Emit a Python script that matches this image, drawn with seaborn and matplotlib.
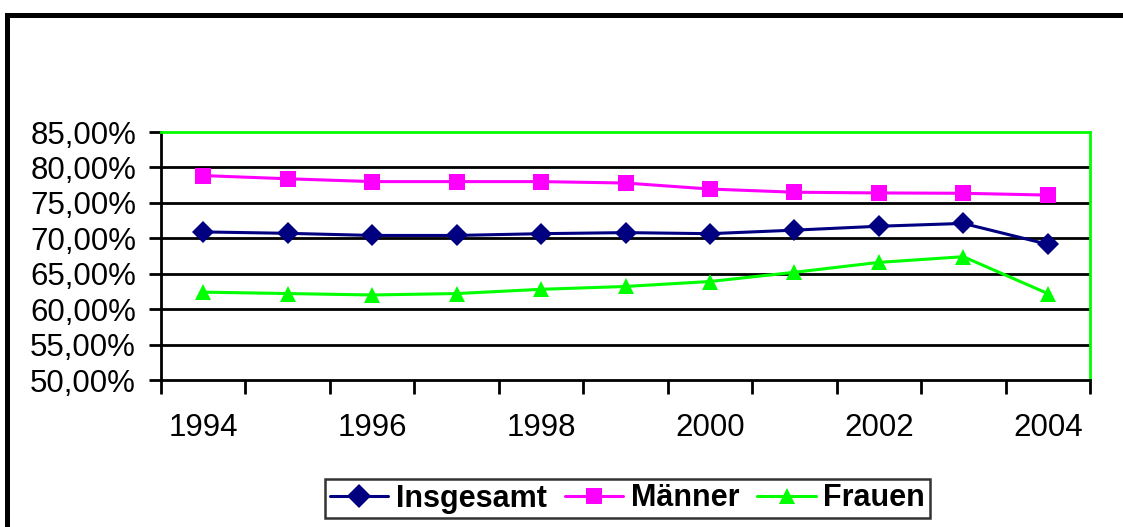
import numpy as np
import pandas as pd
import matplotlib
matplotlib.use("Agg")
import matplotlib.pyplot as plt
import seaborn as sns
from matplotlib.ticker import FuncFormatter, FixedLocator
from matplotlib.patches import Rectangle
from matplotlib.lines import Line2D

years = [1994, 1995, 1996, 1997, 1998, 1999, 2000, 2001, 2002, 2003, 2004]
insgesamt = [70.9, 70.7, 70.4, 70.4, 70.65, 70.8, 70.65, 71.15, 71.7, 72.1, 69.15]
maenner = [78.85, 78.4, 78.0, 78.0, 78.0, 77.8, 76.95, 76.5, 76.4, 76.35, 76.1]
frauen = [62.4, 62.2, 62.0, 62.2, 62.8, 63.2, 63.9, 65.2, 66.6, 67.4, 62.2]
series_names = ["Insgesamt", "Männer", "Frauen"]
colors = {"Insgesamt": "#000080", "Männer": "#FF00FF", "Frauen": "#00FF00"}
markers = {"Insgesamt": "D", "Männer": "s", "Frauen": "^"}
yticks = [50, 55, 60, 65, 70, 75, 80, 85]

sns.set_theme(style="white")
plt.rcParams["font.family"] = ["Liberation Sans", "DejaVu Sans"]
plt.rcParams["text.color"] = "black"
plt.rcParams["xtick.color"] = "black"
plt.rcParams["ytick.color"] = "black"

idx = list(range(len(years)))
df = pd.DataFrame({
    "idx": idx * 3,
    "value": insgesamt + maenner + frauen,
    "series": sum([[n] * len(years) for n in series_names], []),
})

fig = plt.figure(figsize=(11.23, 5.27), dpi=100)
ax = fig.add_axes([161 / 1123, 1 - 380 / 527, (1090 - 161) / 1123, (380 - 132) / 527])

sns.lineplot(data=df, x="idx", y="value", hue="series", style="series",
             hue_order=series_names, style_order=series_names,
             palette=colors, markers=markers, dashes=False, ax=ax,
             linewidth=2.2, markersize=11.5, markeredgewidth=0, legend=False)

ax.set_xlim(-0.5, len(years) - 0.5)
ax.set_ylim(50, 85)
ax.set_xlabel("")
ax.set_ylabel("")

ax.yaxis.set_major_locator(FixedLocator(yticks))
ax.yaxis.set_major_formatter(FuncFormatter(lambda v, p: f"{v:.2f}%".replace(".", ",")))
for y in yticks[1:-1]:
    ax.axhline(y, color="black", linewidth=2, zorder=0.5)

ax.xaxis.set_major_locator(FixedLocator(np.arange(-0.5, len(years), 1.0)))
ax.xaxis.set_major_formatter(FuncFormatter(lambda v, p: ""))
ax.set_xticks(idx[::2], [str(years[i]) for i in idx[::2]], minor=True)
ax.tick_params(axis="x", which="major", direction="out", length=10, width=2, color="black", bottom=True)
ax.tick_params(axis="x", which="minor", length=0, labelsize=22.5, pad=24, bottom=True, labelcolor="black")
ax.tick_params(axis="y", which="major", direction="out", length=9, width=2, color="black", left=True,
               labelsize=22.5, pad=9, labelcolor="black")

for s in ["left", "bottom"]:
    ax.spines[s].set_color("black")
    ax.spines[s].set_linewidth(2)
for s in ["top", "right"]:
    ax.spines[s].set_color("#00FF00")
    ax.spines[s].set_linewidth(2)

handles = [Line2D([0], [0], color=colors[n], marker=markers[n], markersize=12,
                  markeredgewidth=0, linewidth=2.2) for n in series_names]
leg = fig.legend(handles, series_names, loc="center", bbox_to_anchor=(627.5 / 1123, 1 - 498.5 / 527),
                 ncol=3, frameon=True, fancybox=False, prop={"weight": "bold", "size": 22},
                 handlelength=1.9, handletextpad=0.25, columnspacing=0.6, borderpad=0.15,
                 borderaxespad=0)
leg.get_frame().set_edgecolor("black")
leg.get_frame().set_linewidth(1.8)
for t in leg.get_texts():
    t.set_color("black")

fig.patches.append(Rectangle((7 / 1123, -0.2), 1.3, 1 - 15 / 527 + 0.2, transform=fig.transFigure,
                             fill=False, edgecolor="black", linewidth=3.6))

fig.savefig("out.png", dpi=100)
